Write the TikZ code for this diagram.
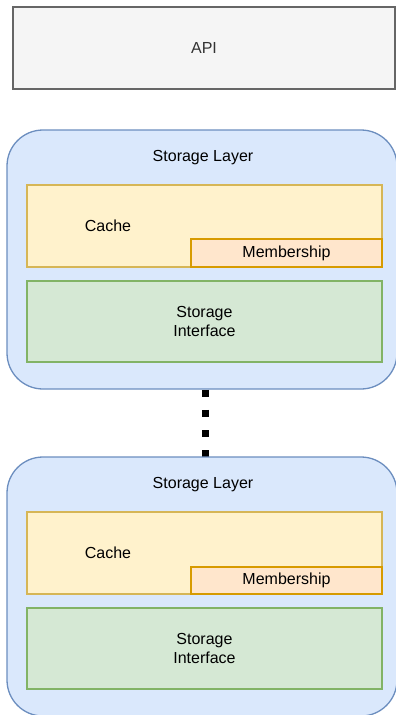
\documentclass[tikz,border=0pt]{standalone}
\usepackage{fontspec}
\setmainfont{Liberation Sans}
\definecolor{apifill}{HTML}{F5F5F5}
\definecolor{apidraw}{HTML}{666666}
\definecolor{apitext}{HTML}{333333}
\definecolor{layfill}{HTML}{DAE8FC}
\definecolor{laydraw}{HTML}{6C8EBF}
\definecolor{cachefill}{HTML}{FFF2CC}
\definecolor{cachedraw}{HTML}{D6B656}
\definecolor{memfill}{HTML}{FFE6CC}
\definecolor{memdraw}{HTML}{D79B00}
\definecolor{sifill}{HTML}{D5E8D4}
\definecolor{sidraw}{HTML}{82B366}
\tikzset{
  box/.style={rectangle, line width=1.3pt, inner sep=0pt, outer sep=0pt, align=center, font=\fontsize{16}{18.5}\selectfont},
  apibox/.style={box, fill=apifill, draw=apidraw, text=apitext},
  layerbox/.style={box, fill=layfill, draw=laydraw, rounded corners=36pt},
  cachebox/.style={box, fill=cachefill, draw=cachedraw},
  membox/.style={box, fill=memfill, draw=memdraw},
  sibox/.style={box, fill=sifill, draw=sidraw},
  lbl/.style={inner sep=0pt, font=\fontsize{16}{18.5}\selectfont, text=black, align=center},
  dotline/.style={line width=7pt, dash pattern=on 7pt off 13.3pt, dash phase=0pt}
}
\begin{document}
\begin{tikzpicture}[x=1pt,y=-1pt]
\useasboundingbox (0,0) rectangle (396,715);
% API
\node[apibox, minimum width=382pt, minimum height=82pt, anchor=north west] (api) at (13,7) {API};
% dotted connector (behind layers)
\coordinate (d1) at (205,389.5);
\coordinate (d2) at (205,460);
\draw[dotline] (d1) -- (d2);
% Layer 1
\node[layerbox, minimum width=390pt, minimum height=259pt, anchor=north west] (l1) at (7,130) {};
\node[lbl] (l1t) at (203,158) {Storage Layer};
\node[cachebox, minimum width=355pt, minimum height=82pt, anchor=north west] (c1) at (27,185) {};
\node[lbl] (c1t) at (108,226) {Cache};
\node[membox, minimum width=191pt, minimum height=28pt, anchor=north west] (m1) at (191,239) {Membership};
\node[sibox, minimum width=355pt, minimum height=81pt, anchor=north west] (s1) at (27,281) {Storage\\Interface};
% Layer 2
\node[layerbox, minimum width=390pt, minimum height=259pt, anchor=north west] (l2) at (7,457) {};
\node[lbl] (l2t) at (203,485) {Storage Layer};
\node[cachebox, minimum width=355pt, minimum height=82pt, anchor=north west] (c2) at (27,512) {};
\node[lbl] (c2t) at (108,553) {Cache};
\node[membox, minimum width=191pt, minimum height=27pt, anchor=north west] (m2) at (191,567) {Membership};
\node[sibox, minimum width=355pt, minimum height=81pt, anchor=north west] (s2) at (27,608) {Storage\\Interface};
\end{tikzpicture}
\end{document}
